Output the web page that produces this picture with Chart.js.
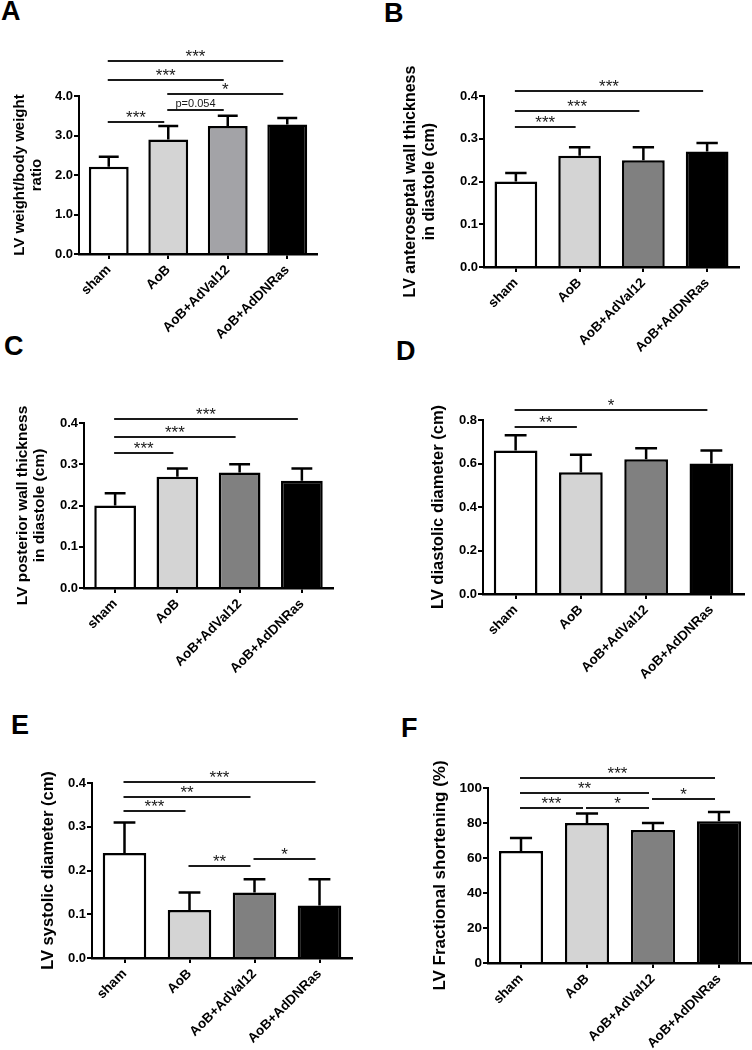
<!DOCTYPE html>
<html>
<head>
<meta charset="utf-8">
<script src="https://cdn.jsdelivr.net/npm/chart.js@4.4.1/dist/chart.umd.min.js"></script>
<style>
  body { margin: 0; width: 752px; height: 1050px; background: #fff; position: relative; overflow: hidden;
         font-family: 'Liberation Sans', Arial, sans-serif; }
  canvas { position: absolute; }
  .lbl { position: absolute; font-weight: bold; font-size: 27px; line-height: 1; color: #000; }
</style>
</head>
<body>
<div class="lbl" style="left:1px;top:-2px">A</div>
<div class="lbl" style="left:384px;top:0px">B</div>
<div class="lbl" style="left:4px;top:333px">C</div>
<div class="lbl" style="left:396px;top:338px">D</div>
<div class="lbl" style="left:11px;top:712px">E</div>
<div class="lbl" style="left:401px;top:715px">F</div>

<canvas id="chartA" width="376" height="360" style="left:0;top:0"></canvas>
<canvas id="chartB" width="376" height="360" style="left:376px;top:0"></canvas>
<canvas id="chartC" width="376" height="360" style="left:0;top:340px"></canvas>
<canvas id="chartD" width="376" height="360" style="left:376px;top:340px"></canvas>
<canvas id="chartE" width="376" height="350" style="left:0;top:700px"></canvas>
<canvas id="chartF" width="376" height="350" style="left:376px;top:700px"></canvas>

<script>
// groups
var groups = ['sham', 'AoB', 'AoB+AdVal12', 'AoB+AdDNRas'];

// A: LV weight / body weight
var lvWeightRatio = [2.21, 2.90, 3.24, 3.28];
var lvWeightRatioErr = [0.25, 0.34, 0.26, 0.16];
var ticksA = [0, 1, 2, 3, 4];
var sigA = [[0, 3, 4.88, '***'], [0, 2, 4.41, '***'], [1, 3, 4.04, '*'], [1, 2, 3.64, 'p=0.054'], [0, 1, 3.34, '***']];

// B: anteroseptal wall thickness
var ivsThick = [0.20, 0.26, 0.25, 0.27];
var ivsThickErr = [0.02, 0.02, 0.03, 0.02];
var ticksB = [0, 0.1, 0.2, 0.3, 0.4];
var sigB = [[0, 3, 0.412, '***'], [0, 2, 0.366, '***'], [0, 1, 0.327, '***']];

// C: posterior wall thickness
var pwThick = [0.20, 0.27, 0.28, 0.26];
var pwThickErr = [0.03, 0.02, 0.02, 0.03];
var ticksC = [0, 0.1, 0.2, 0.3, 0.4];
var sigC = [[0, 3, 0.410, '***'], [0, 2, 0.367, '***'], [0, 1, 0.327, '***']];

// D: diastolic diameter
var diaDiam = [0.66, 0.56, 0.62, 0.60];
var diaDiamErr = [0.07, 0.08, 0.05, 0.06];
var ticksD = [0, 0.2, 0.4, 0.6, 0.8];
var sigD = [[0, 3, 0.845, '*'], [0, 1, 0.768, '**']];

// E: systolic diameter
var sysDiam = [0.24, 0.11, 0.15, 0.12];
var sysDiamErr = [0.07, 0.04, 0.03, 0.06];
var ticksE = [0, 0.1, 0.2, 0.3, 0.4];
var sigE = [[0, 3, 0.403, '***'], [0, 2, 0.368, '**'], [0, 1, 0.335, '***'], [1, 2, 0.210, '**'], [2, 3, 0.227, '*']];

// F: fractional shortening
var fracShort = [64, 80, 76, 81];
var fracShortErr = [7.5, 5.4, 4, 5.3];
var ticksF = [0, 20, 40, 60, 80, 100];
var sigF = [[0, 3, 105.9, '***'], [0, 2, 97.4, '**'], [0, 1, 88.8, '***'], [1, 2, 88.8, '*'], [2, 3, 93.7, '*']];

var FONT = "'Liberation Sans', Arial, sans-serif";
Chart.defaults.font.family = FONT;
Chart.defaults.color = '#000';

// error bars + significance lines
var statsPlugin = {
  id: 'stats',
  afterDatasetsDraw: function(chart, args, opts) {
    var ctx = chart.ctx;
    var xs = chart.scales.x, ys = chart.scales.y;
    var vals = chart.data.datasets[0].data;
    var meta = chart.getDatasetMeta(0);
    ctx.save();
    ctx.strokeStyle = '#000';
    ctx.lineWidth = 2.5;
    meta.data.forEach(function(bar, i) {
      var top = ys.getPixelForValue(vals[i] + opts.errors[i]);
      var half = bar.width / 4;
      ctx.beginPath();
      ctx.moveTo(bar.x, bar.y);
      ctx.lineTo(bar.x, top);
      ctx.moveTo(bar.x - half, top);
      ctx.lineTo(bar.x + half, top);
      ctx.stroke();
    });
    ctx.lineWidth = 2;
    ctx.strokeStyle = '#1a1a1a';
    ctx.fillStyle = '#1a1a1a';
    ctx.textAlign = 'center';
    ctx.textBaseline = 'alphabetic';
    opts.brackets.forEach(function(b) {
      var x1 = xs.getPixelForValue(b[0]) - 1;
      var x2 = xs.getPixelForValue(b[1]) - 4;
      var y = Math.round(ys.getPixelForValue(b[2]));
      ctx.beginPath();
      ctx.moveTo(x1, y);
      ctx.lineTo(x2, y);
      ctx.stroke();
      if (b[3].charAt(0) === '*') {
        ctx.font = '17px ' + FONT;
        ctx.fillText(b[3], (x1 + x2) / 2, y + 1);
      } else {
        ctx.font = '11px ' + FONT;
        ctx.fillText(b[3], (x1 + x2) / 2, y - 3);
      }
    });
    ctx.restore();
  }
};

function makePanel(id, values, errors, colors, yTicks, decimals, title, brackets, lay) {
  return new Chart(document.getElementById(id), {
    type: 'bar',
    data: {
      labels: groups,
      datasets: [{
        data: values,
        backgroundColor: colors,
        borderColor: '#000',
        borderWidth: 2.5,
        barPercentage: 0.67,
        categoryPercentage: 1
      }]
    },
    plugins: [statsPlugin],
    options: {
      responsive: false,
      animation: false,
      devicePixelRatio: 1,
      layout: { padding: { left: 0, right: lay.padRight, top: lay.padTop, bottom: 0 } },
      plugins: {
        legend: { display: false },
        tooltip: { enabled: false },
        stats: { errors: errors, brackets: brackets }
      },
      scales: {
        x: {
          offset: true,
          grid: { offset: false, drawOnChartArea: false, drawTicks: true, tickLength: 5, color: '#000', lineWidth: 2 },
          border: { display: true, color: '#000', width: 2.5 },
          ticks: { color: '#000', autoSkip: false, minRotation: 45, maxRotation: 45, padding: 3,
                   font: { size: lay.xFont, weight: 'bold' } },
          afterFit: function(s) { s.height = lay.xHeight; }
        },
        y: {
          min: yTicks[0],
          max: yTicks[yTicks.length - 1],
          afterBuildTicks: function(s) { s.ticks = yTicks.map(function(v) { return { value: v }; }); },
          grid: { drawOnChartArea: false, drawTicks: true, tickLength: 5, color: '#000', lineWidth: 2 },
          border: { display: true, color: '#000', width: 2 },
          ticks: { color: '#000', padding: 1, font: { size: lay.yFont, weight: 'bold' },
                   callback: function(v) { return Number(v).toFixed(decimals); } },
          title: { display: true, text: title, color: '#000',
                   font: { size: lay.titleFont, weight: 'bold', lineHeight: lay.titleLH },
                   padding: { top: lay.titlePad, bottom: 0 } },
          afterFit: function(s) { s.width = lay.yWidth; }
        }
      }
    }
  });
}

var colorsA = ['#ffffff', '#d4d4d4', '#a3a3a7', '#000000'];
var colorsRest = ['#ffffff', '#d4d4d4', '#808080', '#000000'];

makePanel('chartA', lvWeightRatio, lvWeightRatioErr, colorsA, ticksA, 1,
  ['LV weight/body weight', 'ratio'], sigA,
  { padRight: 59, padTop: 96, xHeight: 106, yWidth: 79, xFont: 13.5, yFont: 13, titleFont: 15, titleLH: 1.15, titlePad: 11 });

makePanel('chartB', ivsThick, ivsThickErr, colorsRest, ticksB, 1,
  ['LV anteroseptal wall thickness', 'in diastole (cm)'], sigB,
  { padRight: 13, padTop: 96, xHeight: 93, yWidth: 108, xFont: 13.5, yFont: 13, titleFont: 16, titleLH: 1.2, titlePad: 25 });

makePanel('chartC', pwThick, pwThickErr, colorsRest, ticksC, 1,
  ['LV posterior wall thickness', 'in diastole (cm)'], sigC,
  { padRight: 43, padTop: 83, xHeight: 112, yWidth: 84, xFont: 13.5, yFont: 13, titleFont: 15.5, titleLH: 1.05, titlePad: 15 });

makePanel('chartD', diaDiam, diaDiamErr, colorsRest, ticksD, 1,
  'LV diastolic diameter (cm)', sigD,
  { padRight: 8, padTop: 80, xHeight: 106, yWidth: 107, xFont: 13.5, yFont: 13, titleFont: 16.5, titleLH: 1.2, titlePad: 53 });

makePanel('chartE', sysDiam, sysDiamErr, colorsRest, ticksE, 1,
  'LV systolic diameter (cm)', sigE,
  { padRight: 24, padTop: 83, xHeight: 92, yWidth: 92, xFont: 13.5, yFont: 13, titleFont: 16.5, titleLH: 1.2, titlePad: 39 });

makePanel('chartF', fracShort, fracShortErr, colorsRest, ticksF, 0,
  'LV Fractional shortening (%)', sigF,
  { padRight: 0, padTop: 88, xHeight: 87, yWidth: 112, xFont: 13.5, yFont: 13.5, titleFont: 17, titleLH: 1.2, titlePad: 54 });
</script>
</body>
</html>
